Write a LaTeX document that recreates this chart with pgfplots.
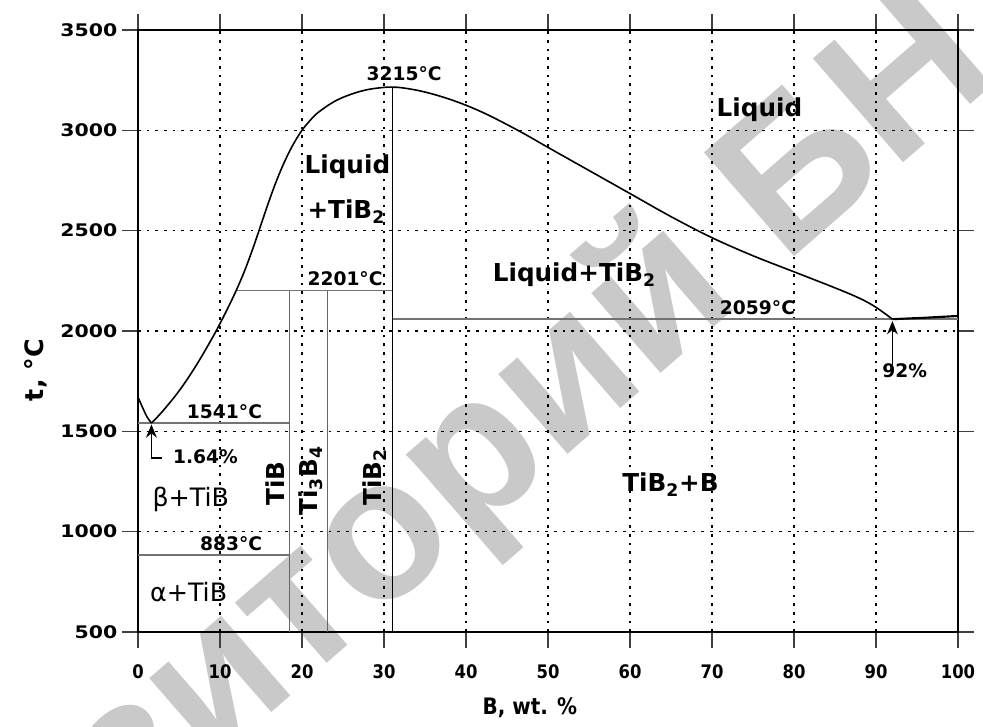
\documentclass[border=0pt]{standalone}
\usepackage{fontspec}
\setmainfont{DejaVu Sans}
\newfontfamily\condfont{DejaVu Sans}[FakeStretch=0.88]
\newfontfamily\widefont{DejaVu Sans}[FakeStretch=1.18]
\newfontfamily\wmfont{Liberation Sans}
\usepackage{pgfplots}
\pgfplotsset{compat=1.18}
\usetikzlibrary{arrows.meta}

\pgfplotstableread{
x y
1.64 1541
3 1600
5 1701
7 1822
9 1961
10 2037
11 2118
12 2204
13 2300
14 2410
15 2530
16 2650
17 2760
18 2855
19 2935
20 3000
21 3050
22 3090
24 3145
26 3180
28 3203
30 3214
31 3215
32 3213
34 3200
36 3180
38 3155
40 3125
42 3090
44 3050
47 2985
50 2915
55 2800
60 2685
65 2570
70 2465
75 2375
80 2295
85 2215
88 2163
90 2118
92 2059
}\liquidus

\newcommand{\tl}{\bfseries\fontsize{14}{14}\selectfont}
\newcommand{\bl}{\bfseries\fontsize{18.5}{18.5}\selectfont}
\newcommand{\rl}{\fontsize{19}{19}\selectfont}

\begin{document}
\begin{tikzpicture}
\begin{scope}
\clip (-103.5pt,-70.5pt) rectangle (633.75pt,474pt);
\node[rotate=41, anchor=base west, text=black!21, inner sep=0pt,
      font=\wmfont\bfseries\fontsize{150}{150}\selectfont] at (122pt,-41pt) {\llap{Репози}торий БНТУ};
\end{scope}
\begin{axis}[
  scale only axis, width=615pt, height=451.5pt,
  xmin=0, xmax=100, ymin=500, ymax=3500,
  enlargelimits=false,
  xtick={0,10,...,100}, ytick={500,1000,...,3500},
  grid=major,
  major grid style={black, line width=0.9pt, dash pattern=on 2pt off 4.5pt},
  tick align=outside, major tick length=12pt,
  tick style={black!75, line width=0.9pt},
  axis line style={black, line width=1pt},
  /pgf/number format/assume math mode=true,
  /pgf/number format/set thousands separator={},
  xticklabel style={font=\condfont\bfseries\fontsize{14}{14}\selectfont, yshift=-9pt},
  yticklabel style={font=\widefont\bfseries\fontsize{13}{13}\selectfont},
  xlabel={B, wt. \%}, ylabel={t, °C},
  xlabel style={font=\condfont\bfseries\fontsize{17}{17}\selectfont,
     at={(rel axis cs:0.478,0)}, anchor=base, yshift=-61.5pt},
  ylabel style={font=\bfseries\fontsize{19}{19}\selectfont,
     at={(rel axis cs:-0.1244,0.435)}, anchor=center},
  clip=false,
]
% phase lines
\addplot[black!55, line width=1.1pt] coordinates {(0,1541) (18.45,1541)};
\addplot[black!55, line width=1.1pt] coordinates {(0,883) (18.45,883)};
\addplot[black!55, line width=1.1pt] coordinates {(12,2201) (31.05,2201)};
\addplot[black!55, line width=1.1pt] coordinates {(31.05,2059) (100,2059)};
\addplot[black!60, line width=1.1pt] coordinates {(18.45,500) (18.45,2201)};
\addplot[black!60, line width=1.1pt] coordinates {(23.1,500) (23.1,2201)};
\addplot[black, line width=1.1pt] coordinates {(31.05,500) (31.05,3215)};
% liquidus
\addplot[black, line width=1.2pt, smooth, tension=0.5] coordinates {(0,1670) (0.6,1615) (1.1,1572) (1.64,1541)};
\addplot[black, line width=1.2pt, smooth, tension=0.6] table {\liquidus};
\addplot[black, line width=1.6pt] coordinates {(92,2059) (96,2066) (100,2075)};
% arrows
\addplot[black, line width=1.2pt, -{Stealth[length=10pt,width=8pt]}] coordinates {(92,1830) (92,2050)};
\addplot[black, line width=1.2pt, -{Stealth[length=10pt,width=8pt]}] coordinates {(2.9,1367) (1.64,1367) (1.64,1535)};
% labels
\node[anchor=base west, font=\tl] at (axis cs:27.3,3250) {3215°C};
\node[anchor=base west, font=\bl] at (axis cs:70.0,3067) {Liquid};
\node[anchor=base west, font=\bl] at (axis cs:19.75,2785) {Liquid};
\node[anchor=base west, font=\bl] at (axis cs:20.1,2560) {+TiB\textsubscript{2}};
\node[anchor=base west, font=\tl] at (axis cs:20.1,2229) {2201°C};
\node[anchor=base west, font=\bl] at (axis cs:42.7,2245) {Liquid+TiB\textsubscript{2}};
\node[anchor=base west, font=\tl] at (axis cs:70.4,2084) {2059°C};
\node[anchor=base west, font=\tl] at (axis cs:90.2,1766) {92\%};
\node[anchor=base west, font=\tl] at (axis cs:5.4,1566) {1541°C};
\node[anchor=base west, font=\tl] at (axis cs:3.7,1342) {1.64\%};
\node[anchor=base west, font=\rl] at (axis cs:1.2,1124) {β+TiB};
\node[anchor=base west, font=\tl] at (axis cs:7.0,904) {883°C};
\node[anchor=base west, font=\rl] at (axis cs:0.9,651) {α+TiB};
\node[anchor=base west, font=\bl, rotate=90] at (axis cs:17.9,1108) {TiB};
\node[anchor=base west, font=\bl, rotate=90] at (axis cs:21.95,1058) {Ti\textsubscript{3}B\textsubscript{4}};
\node[anchor=base west, font=\bl, rotate=90] at (axis cs:29.7,1108) {TiB\textsubscript{2}};
\node[anchor=base west, font=\bl] at (axis cs:58.5,1199) {TiB\textsubscript{2}+B};
\end{axis}
\pgfresetboundingbox
\path (-103.5pt,-70.5pt) rectangle (633.75pt,474pt);
\end{tikzpicture}
\end{document}
